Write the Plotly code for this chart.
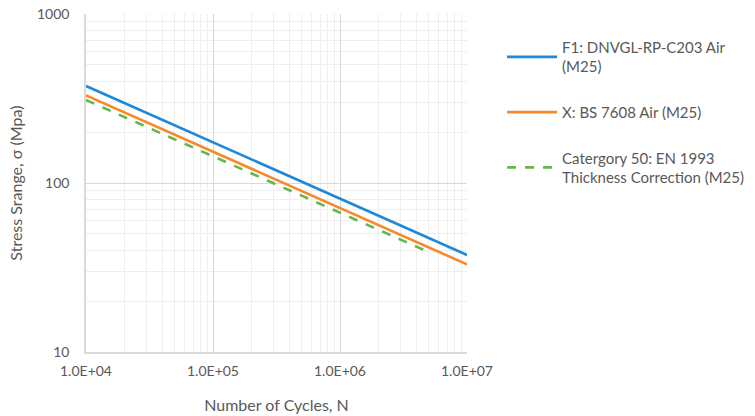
import plotly.graph_objects as go

# Data (log-log S-N curves)
cycles_f1 = [1e4, 1e7]
stress_f1 = [375, 37.5]
cycles_x = [1e4, 1e7]
stress_x = [330, 33]
cycles_c50 = [1e4, 5e6]
stress_c50 = [310, 39]

names = [
    "F1: DNVGL-RP-C203 Air<br>(M25)",
    "X: BS 7608 Air (M25)",
    "Catergory 50: EN 1993<br>Thickness Correction (M25)",
]
x_tickvals = [1e4, 1e5, 1e6, 1e7]
x_ticktext = ["1.0E+04", "1.0E+05", "1.0E+06", "1.0E+07"]
y_tickvals = [10, 100, 1000]
y_ticktext = ["10", "100", "1000"]

x_minor = [m * d for d in (1e4, 1e5, 1e6) for m in range(2, 10)]
y_minor = [m * d for d in (10, 100) for m in range(2, 10)]

font = "Lato, 'Open Sans', sans-serif"
grey = "#595959"

fig = go.Figure()
fig.add_trace(go.Scatter(x=cycles_f1, y=stress_f1, mode="lines", name=names[0],
                         line=dict(color="#1f88d8", width=2.6), legendgroup="a"))
fig.add_trace(go.Scatter(x=cycles_x, y=stress_x, mode="lines", name=names[1],
                         line=dict(color="#f7892b", width=2.6), legendgroup="b"))
fig.add_trace(go.Scatter(x=cycles_c50, y=stress_c50, mode="lines", name=names[2],
                         line=dict(color="#62b84a", width=2.6, dash="dash"), legendgroup="c"))

fig.update_layout(
    width=755, height=416,
    margin=dict(l=86, r=288, t=14, b=64, autoexpand=False),
    paper_bgcolor="white", plot_bgcolor="white",
    font=dict(family=font, size=14, color=grey),
    showlegend=True,
    legend=dict(x=1.092, y=0.95, xanchor="left", yanchor="top",
                font=dict(size=15, color=grey), tracegroupgap=23,
                itemwidth=50, bgcolor="rgba(0,0,0,0)"),
)
fig.update_xaxes(
    type="log", range=[4, 7], automargin=False,
    tickmode="array", tickvals=x_tickvals, ticktext=x_ticktext,
    showgrid=True, gridcolor="#d9d9d9", gridwidth=1,
    minor=dict(tickmode="array", tickvals=x_minor, showgrid=True,
               gridcolor="#eeeeee", gridwidth=1, ticks=""),
    showline=True, linecolor="#d9d9d9", linewidth=1.5,
    ticks="", ticklabelstandoff=5, ticklabeloverflow="allow",
    title=dict(text="Number of Cycles, N", font=dict(size=16, color=grey), standoff=22),
    tickfont=dict(size=14, color=grey),
    zeroline=False,
)
fig.update_yaxes(
    type="log", range=[1, 3], automargin=False,
    tickmode="array", tickvals=y_tickvals, ticktext=y_ticktext,
    showgrid=True, gridcolor="#d9d9d9", gridwidth=1,
    minor=dict(tickmode="array", tickvals=y_minor, showgrid=True,
               gridcolor="#eeeeee", gridwidth=1, ticks=""),
    showline=True, linecolor="#d9d9d9", linewidth=1.5,
    ticks="", ticklabelstandoff=12, ticklabeloverflow="allow",
    title=dict(text="Stress Srange, σ (Mpa)", font=dict(size=16, color=grey), standoff=10),
    tickfont=dict(size=14, color=grey),
    zeroline=False,
)

fig.write_html("out.html", config={"displayModeBar": False},
               post_script="document.body.style.margin='0';")
